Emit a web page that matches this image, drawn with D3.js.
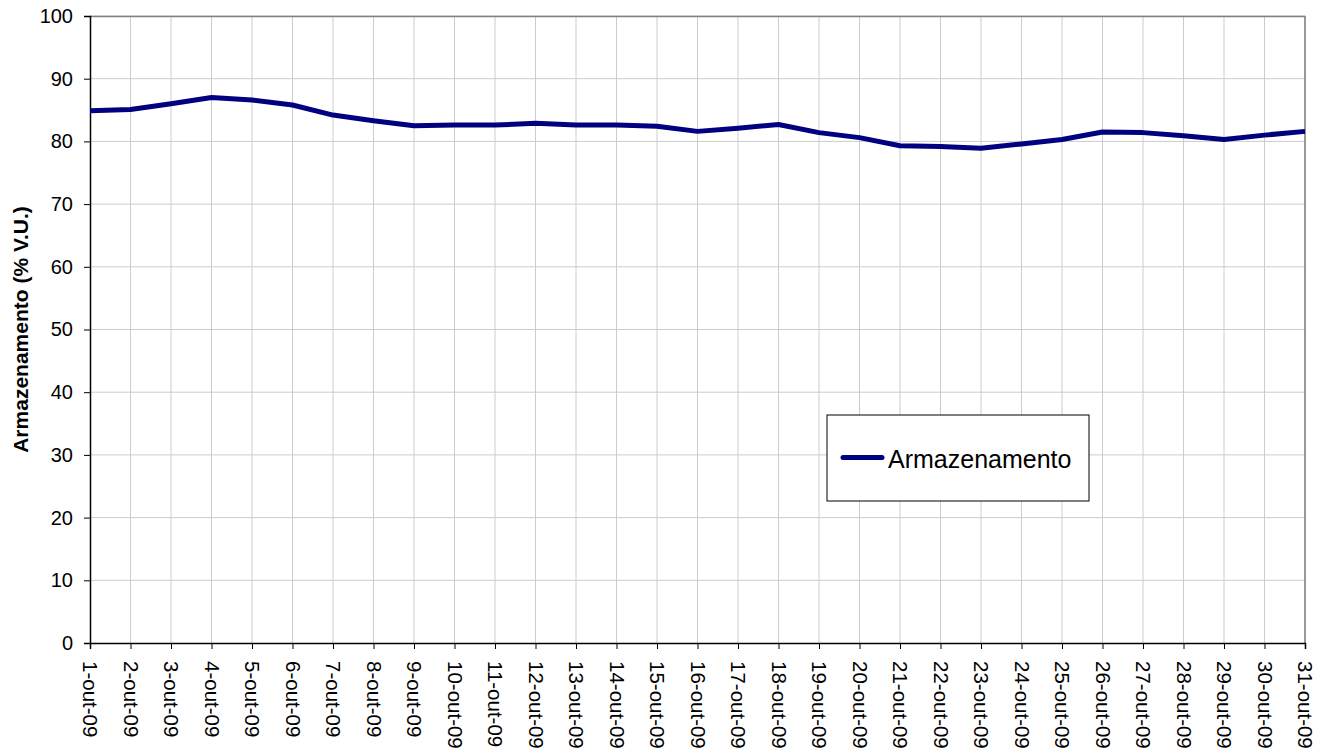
<!DOCTYPE html>
<html>
<head>
<meta charset="utf-8">
<script src="https://cdn.jsdelivr.net/npm/d3@7"></script>
<style>
  body { margin: 0; background: #fff; }
  svg { display: block; font-family: "Liberation Sans", Arial, sans-serif; }
</style>
</head>
<body>
<div id="chart"></div>
<script>
// Data
const days = d3.range(1, 32).map(d => `${d}-out-09`);
const storage = [84.9, 85.1, 86.0, 87.0, 86.6, 85.8, 84.2, 83.3, 82.5, 82.6,
                 82.6, 82.9, 82.6, 82.6, 82.4, 81.6, 82.1, 82.7, 81.4, 80.6,
                 79.3, 79.2, 78.9, 79.6, 80.3, 81.5, 81.4, 80.9, 80.3, 81.0, 81.6];
const yTicks = [0, 10, 20, 30, 40, 50, 60, 70, 80, 90, 100];

const W = 1328, H = 755;
const margin = {top: 16, right: 23, bottom: 112, left: 90};
const width = W - margin.left - margin.right;
const height = H - margin.top - margin.bottom;

const svg = d3.select("#chart").append("svg")
    .attr("width", W).attr("height", H);

const g = svg.append("g")
    .attr("transform", `translate(${margin.left},${margin.top})`);

const x = d3.scalePoint().domain(days).range([0, width]);
const y = d3.scaleLinear().domain([0, 100]).range([height, 0]);

// Gridlines
g.append("g").selectAll("line")
    .data(yTicks.slice(1))
    .enter().append("line")
    .attr("x1", 0).attr("x2", width)
    .attr("y1", d => y(d)).attr("y2", d => y(d))
    .attr("stroke", "#cccccc").attr("stroke-width", 1);

g.append("g").selectAll("line")
    .data(days.slice(1))
    .enter().append("line")
    .attr("x1", d => x(d)).attr("x2", d => x(d))
    .attr("y1", 0).attr("y2", height)
    .attr("stroke", "#cccccc").attr("stroke-width", 1);

// Top/right border
g.append("path")
    .attr("d", `M0,0.5H${width}V${height}`)
    .attr("fill", "none").attr("stroke", "#808080").attr("stroke-width", 1.5);

// Axes
const yAxis = g.append("g")
    .call(d3.axisLeft(y).tickValues(yTicks).tickSize(6).tickPadding(11));
yAxis.select(".domain").attr("stroke", "#000").attr("stroke-width", 1.5);
yAxis.selectAll(".tick line").attr("stroke", "#000");
yAxis.selectAll("text").style("font-size", "20px").attr("fill", "#000");

const xAxis = g.append("g")
    .attr("transform", `translate(0,${height})`)
    .call(d3.axisBottom(x).tickSize(6).tickPadding(0));
xAxis.select(".domain").attr("stroke", "#000").attr("stroke-width", 1.5);
xAxis.selectAll(".tick line").attr("stroke", "#000");
xAxis.selectAll("text")
    .style("font-size", "20.5px").attr("fill", "#000")
    .attr("transform", "rotate(90)")
    .attr("x", 18).attr("y", 0).attr("dy", "0.35em")
    .attr("text-anchor", "start");

// Y title
svg.append("text")
    .attr("transform", `translate(28,${margin.top + height / 2}) rotate(-90)`)
    .attr("text-anchor", "middle")
    .style("font-size", "21px").style("font-weight", "bold")
    .text("Armazenamento (% V.U.)");

// Line
const line = d3.line()
    .x((d, i) => x(days[i]))
    .y(d => y(d));

g.append("path")
    .datum(storage)
    .attr("d", line)
    .attr("fill", "none")
    .attr("stroke", "#000080")
    .attr("stroke-width", 5)
    .attr("stroke-linejoin", "round");

// Legend
const legend = svg.append("g").attr("transform", "translate(827,415)");
legend.append("rect")
    .attr("width", 262).attr("height", 86)
    .attr("fill", "#fff").attr("stroke", "#000").attr("stroke-width", 1);
legend.append("line")
    .attr("x1", 16).attr("x2", 55).attr("y1", 42.5).attr("y2", 42.5)
    .attr("stroke", "#000080").attr("stroke-width", 5).attr("stroke-linecap", "round");
legend.append("text")
    .attr("x", 61).attr("y", 44).attr("dy", "0.35em")
    .style("font-size", "25px")
    .text("Armazenamento");
</script>
</body>
</html>
